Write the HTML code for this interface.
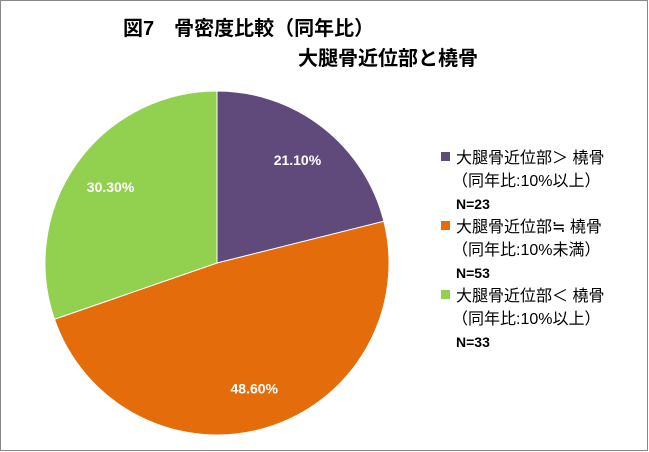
<!DOCTYPE html>
<html><head><meta charset="utf-8"><style>
body{margin:0;background:#fff;}
svg{display:block;font-family:"Liberation Sans","Noto Sans CJK JP",sans-serif;}
</style></head><body>
<svg id="chart" width="649" height="452">
<rect x="0.5" y="0.5" width="647" height="450" fill="#fff" stroke="#888"/>
<text x="123" y="35" font-size="20" font-weight="bold" fill="#000">図7　骨密度比較（同年比）</text>
<text x="298" y="65" font-size="20" font-weight="bold" fill="#000">大腿骨近位部と橈骨</text>
<g id="slices"></g>
<g id="legend"></g>
</svg>
<script>
const categories=["大腿骨近位部＞ 橈骨","大腿骨近位部≒ 橈骨","大腿骨近位部＜ 橈骨"];
const subLabels=["（同年比:10%以上）","（同年比:10%未満）","（同年比:10%以上）"];
const counts=["N=23","N=53","N=33"];
const values=[21.1,48.6,30.3];
const valueLabels=["21.10%","48.60%","30.30%"];
const colors=["#604a7b","#e46c0a","#92d050"];
const NS="http://www.w3.org/2000/svg";
const cx=217,cy=263,r=172;
const total=values.reduce((a,b)=>a+b,0);
const slices=document.getElementById('slices');
let start=0;
function pt(a,rr){return [cx+rr*Math.sin(a),cy-rr*Math.cos(a)];}
values.forEach((v,i)=>{
  const a0=start/total*2*Math.PI,a1=(start+v)/total*2*Math.PI;
  const p0=pt(a0,r),p1=pt(a1,r);
  const large=(a1-a0)>Math.PI?1:0;
  const p=document.createElementNS(NS,'path');
  p.setAttribute('d',`M${cx},${cy}L${p0[0]},${p0[1]}A${r},${r} 0 ${large} 1 ${p1[0]},${p1[1]}Z`);
  p.setAttribute('fill',colors[i]);
  p.setAttribute('stroke','#fff');
  p.setAttribute('stroke-width','1');
  
  
  slices.appendChild(p);
  const am=(a0+a1)/2;
  const lp=pt(am,r*0.76);
  const t=document.createElementNS(NS,'text');
  t.setAttribute('x',lp[0]);t.setAttribute('y',lp[1]+5);
  t.setAttribute('text-anchor','middle');
  t.setAttribute('font-size','14');t.setAttribute('font-weight','bold');
  t.setAttribute('fill','#fff');
  t.textContent=valueLabels[i];
  
  
  slices.appendChild(t);
  start+=v;
});
const legend=document.getElementById('legend');
categories.forEach((c,i)=>{
  const y0=157+i*69;
  const m=document.createElementNS(NS,'rect');
  m.setAttribute('x',441);m.setAttribute('y',y0-5);m.setAttribute('width',9);m.setAttribute('height',9);
  m.setAttribute('fill',colors[i]);
  
  
  legend.appendChild(m);
  [[c,'normal',16],[subLabels[i],'normal',16],[counts[i],'bold',14]].forEach((d,j)=>{
    const t=document.createElementNS(NS,'text');
    t.setAttribute('x',j===1?452:456);t.setAttribute('y',y0+6+j*23);
    t.setAttribute('font-size',d[2]);t.setAttribute('font-weight',j===2?'bold':'normal');
    t.setAttribute('fill','#000');
    t.textContent=d[0];
    
    
    legend.appendChild(t);
  });
});
</script>
</body></html>
